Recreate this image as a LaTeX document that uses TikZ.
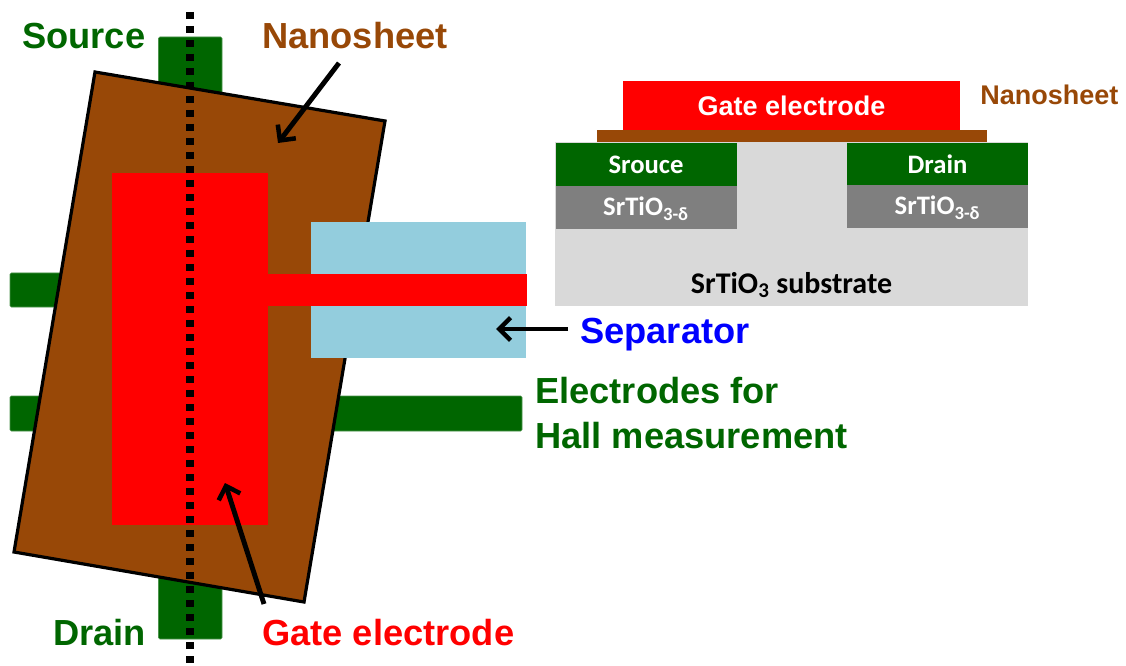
\documentclass[tikz,border=0pt]{standalone}
\usepackage{xcolor}
\usepackage{fontspec}
\setmainfont{Liberation Sans}
\newfontfamily\calibrifont{Carlito}
\usetikzlibrary{arrows.meta}
\definecolor{elecgreen}{HTML}{006600}
\definecolor{sheetbrown}{HTML}{984807}
\definecolor{sepblue}{HTML}{93CDDD}
\definecolor{subgray}{HTML}{D9D9D9}
\definecolor{layergray}{HTML}{7F7F7F}
\tikzset{
	biglabel/.style={anchor=base west,inner sep=0pt,font=\fontsize{27.2}{30}\selectfont\bfseries},
	smalllabel/.style={anchor=base,inner sep=0pt,font=\fontsize{20.25}{24}\selectfont\bfseries},
	layerlabel/.style={anchor=base,inner sep=0pt,font=\fontsize{20}{24}\selectfont\calibrifont\bfseries},
	strip/.style={fill=elecgreen,draw=elecgreen!70!white,line width=0.4pt,rounded corners=1pt},
	pointer/.style={line width=3.7pt,-{Straight Barb[length=8.5pt,width=17pt,line width=3.4pt]}}
}
\begin{document}
\begin{tikzpicture}[x=0.75pt,y=-0.75pt]
	\useasboundingbox (0,0) rectangle (1126,666);
	
	%Plan view
	\coordinate (NW) at (95,72);
	\coordinate (NE) at (385,121);
	\coordinate (SE) at (304,602);
	\coordinate (SW) at (14,552);
	
	%Electrodes
	\draw[strip] (158.5,37) rectangle (222,639);
	\draw[strip] (10,273) rectangle (300,307);
	\draw[strip] (10,396) rectangle (522,431);
	
	%Nanosheet, separator, gate
	\filldraw[fill=sheetbrown,draw=black,line width=2.4pt,line join=miter] (NW) -- (NE) -- (SE) -- (SW) -- cycle;
	\fill[sepblue] (311,222) rectangle (526,358);
	\fill[red] (112,173) rectangle (268,525);
	\fill[red] (268,274) rectangle (527,306);
	
	%Cut line
	\draw[line width=5.4pt,dash pattern=on 5.3pt off 5.2pt] (190,12) -- (190,666);
	
	%Cross-section
	\fill[subgray] (555,142) rectangle (1028,306);
	\fill[elecgreen] (556,143) rectangle (737,186);
	\fill[layergray] (556,186) rectangle (737,229);
	\fill[elecgreen] (847,143) rectangle (1028,185);
	\fill[layergray] (847,185) rectangle (1028,228);
	\fill[sheetbrown] (597,130) rectangle (987,142);
	\fill[red] (623,81) rectangle (960,130);
	
	%Labels
	\node[biglabel,elecgreen] (source) at (22,49) {Source};
	\node[biglabel,sheetbrown] (nanosheet) at (262,49) {Nanosheet};
	\node[biglabel,elecgreen] (drain) at (53,645) {Drain};
	\node[biglabel,red] (gate) at (262,645) {Gate electrode};
	\node[biglabel,blue] (separator) at (580,343) {Separator};
	\node[biglabel,elecgreen] (hallA) at (535,403) {Electrodes for};
	\node[biglabel,elecgreen] (hallB) at (535,448) {Hall measurement};
	
	\node[smalllabel,sheetbrown,anchor=base west] (nanosheetB) at (980,105) {Nanosheet};
	\node[smalllabel,white] (gateB) at (791.5,116) {Gate electrode};
	\node[layerlabel,white] (sourceB) at (646,174) {Srouce};
	\node[layerlabel,white] (drainB) at (937.5,174) {Drain};
	\node[layerlabel,white] (sroA) at (646,216) {SrTiO\textsubscript{3-δ}};
	\node[layerlabel,white] (sroB) at (937.5,215) {SrTiO\textsubscript{3-δ}};
	\node[layerlabel,black,font=\fontsize{22.5}{26}\selectfont\calibrifont\bfseries] (substrate) at (791.5,293) {SrTiO\textsubscript{3} substrate};
	
	%Arrows
	\coordinate (nanoTail) at (339,63);
	\coordinate (nanoHead) at (278,143);
	\coordinate (gateTail) at (264,604);
	\coordinate (gateHead) at (225,483);
	\coordinate (sepTail) at (568,329);
	\coordinate (sepHead) at (496,329);
	\draw[pointer] (nanoTail) -- (nanoHead);
	\draw[pointer] (gateTail) -- (gateHead);
	\draw[pointer] (sepTail) -- (sepHead);
\end{tikzpicture}
\end{document}
